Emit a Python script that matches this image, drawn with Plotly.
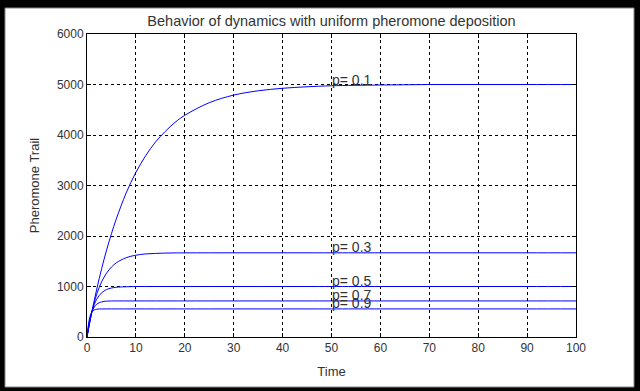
import plotly.graph_objects as go

# Time samples
time = [0, 1, 2, 3, 4, 5, 6, 8, 10, 12, 14, 16, 18, 20, 25, 30, 35, 40, 45, 50, 60, 70, 80, 90, 100]

# Pheromone trail values per evaporation rate p
trail_p01 = [0, 500, 950, 1355, 1720, 2045, 2340, 2850, 3260, 3590, 3860, 4070, 4250, 4390,
             4640, 4790, 4875, 4925, 4955, 4975, 4990, 5000, 5000, 5000, 5000]
trail_p03 = [0, 500, 850, 1095, 1265, 1385, 1470, 1570, 1620, 1645, 1655, 1662, 1665, 1666,
             1667, 1667, 1667, 1667, 1667, 1667, 1667, 1667, 1667, 1667, 1667]
trail_p05 = [0, 500, 750, 875, 940, 970, 985, 995, 1000, 1000, 1000, 1000, 1000, 1000,
             1000, 1000, 1000, 1000, 1000, 1000, 1000, 1000, 1000, 1000, 1000]
trail_p07 = [0, 500, 650, 695, 710, 714, 714, 714, 714, 714, 714, 714, 714, 714,
             714, 714, 714, 714, 714, 714, 714, 714, 714, 714, 714]
trail_p09 = [0, 500, 550, 555, 556, 556, 556, 556, 556, 556, 556, 556, 556, 556,
             556, 556, 556, 556, 556, 556, 556, 556, 556, 556, 556]

series = {
    'p= 0.1': trail_p01,
    'p= 0.3': trail_p03,
    'p= 0.5': trail_p05,
    'p= 0.7': trail_p07,
    'p= 0.9': trail_p09,
}
label_time = 50

x_ticks = [0, 10, 20, 30, 40, 50, 60, 70, 80, 90, 100]
y_ticks = [0, 1000, 2000, 3000, 4000, 5000, 6000]

TEXT = '#333333'

fig = go.Figure()

for name, values in series.items():
    fig.add_trace(go.Scatter(
        x=time, y=values, mode='lines', name=name,
        line=dict(color='#0000ff', width=1),
        line_shape='spline',
    ))
    # label sits at t=50, just above the curve
    fig.add_annotation(
        x=label_time, y=values[time.index(label_time)], text=name,
        xanchor='left', yanchor='middle', yshift=6, xshift=-2, showarrow=False,
        font=dict(size=14, color=TEXT),
    )

# white panel on black background
l, r, t, b = 87, 64, 34, 54
pw, ph = 640 - l - r, 391 - t - b
fig.add_shape(
    type='rect', xref='paper', yref='paper', layer='below',
    x0=(5 - l) / pw, x1=(634 - l) / pw,
    y0=(391 - b - 387) / ph, y1=(391 - b - 8) / ph,
    fillcolor='white', line=dict(color='#888888', width=1),
)

axis_style = dict(
    showline=True, linecolor='black', linewidth=1, mirror='ticks',
    ticks='inside', ticklen=4, tickcolor='black',
    showgrid=True, gridcolor='black', gridwidth=1, griddash='dot',
    zeroline=False, tickfont=dict(size=12, color=TEXT),
    automargin=False,
)

fig.update_xaxes(range=[0, 100], tickvals=x_ticks,
                 title=dict(text='Time', font=dict(size=13, color=TEXT), standoff=12),
                 **axis_style)
fig.update_yaxes(range=[0, 6000], tickvals=y_ticks,
                 title=dict(text='Pheromone Trail', font=dict(size=13, color=TEXT), standoff=14),
                 **axis_style)

fig.update_layout(
    width=640, height=391,
    margin=dict(l=l, r=r, t=t, b=b, autoexpand=False),
    paper_bgcolor='black', plot_bgcolor='white',
    showlegend=False,
    font=dict(family='Liberation Sans, Arial, sans-serif'),
    title=dict(text='Behavior of dynamics with uniform pheromone deposition',
               x=(l + pw / 2) / 640, xanchor='center', y=1 - 21 / 391, yanchor='middle',
               font=dict(size=14.5, color=TEXT)),
)

# drop the page's default body margin so the figure sits at the window corner
fig.write_html('out.html', config={'displayModeBar': False},
               post_script="document.body.style.margin='0';document.body.style.background='black';")
